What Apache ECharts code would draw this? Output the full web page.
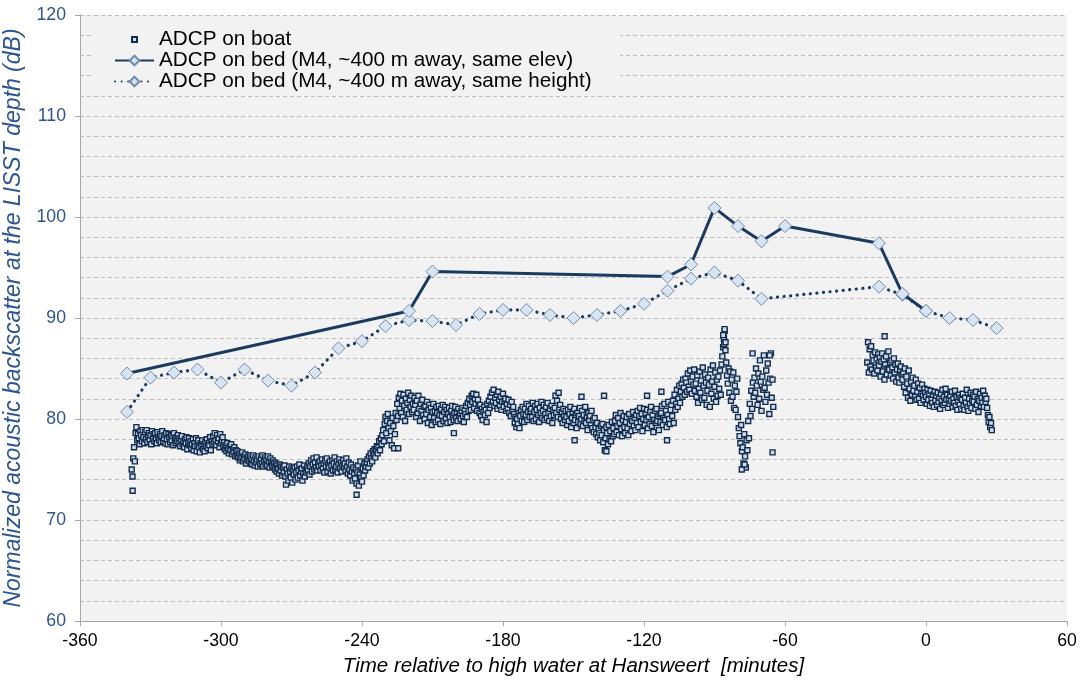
<!DOCTYPE html>
<html><head><meta charset="utf-8">
<script src="https://cdn.jsdelivr.net/npm/echarts@6/dist/echarts.min.js"></script>
<style>html,body{margin:0;padding:0;background:#fff}#c{width:1085px;height:684px}</style>
</head><body><div id="c"></div>
<script>
const seriesNames = ['ADCP on boat', 'ADCP on bed (M4, ~400 m away, same elev)', 'ADCP on bed (M4, ~400 m away, same height)'];
const xTicks = [-360, -300, -240, -180, -120, -60, 0, 60];
const yTicks = [60, 70, 80, 90, 100, 110, 120];

// ADCP on bed, same elevation
const elevTimes = [-340, -220, -210, -110, -100, -90, -80, -70, -60, -20, -10, 0];
const elevValues = [84.5, 90.7, 94.6, 94.1, 95.3, 100.9, 99.1, 97.6, 99.1, 97.4, 92.4, 90.7];

// ADCP on bed, same height
const heightTimes = [-340, -330, -320, -310, -300, -290, -280, -270, -260, -250, -240, -230, -220, -210, -200, -190, -180, -170, -160, -150, -140, -130, -120, -110, -100, -90, -80, -70, -20, -10, 0, 10, 20, 30];
const heightValues = [80.7, 84.1, 84.6, 84.9, 83.6, 84.9, 83.8, 83.3, 84.6, 87.0, 87.7, 89.2, 89.8, 89.7, 89.3, 90.4, 90.8, 90.8, 90.3, 90.0, 90.3, 90.7, 91.4, 92.7, 93.9, 94.5, 93.7, 91.9, 93.1, 92.3, 90.7, 90.0, 89.8, 89.0];

// ADCP on boat: samples every 20 s (1/3 min)
const boatStep = 1 / 3;
const boatStart1 = -338;
const boatValues1 = [
75.0,74.3,76.1,77.2,75.8,78.6,79.2,77.9,78.5,78.1,77.5,78.8,78.4,77.8,78.9,
78.2,77.6,78.7,78.0,78.9,77.7,78.3,78.6,77.9,78.4,77.5,78.8,78.1,78.5,77.8,
78.6,78.0,77.6,78.7,78.2,77.9,78.5,77.7,78.3,78.8,77.8,78.1,78.4,77.6,78.6,
78.0,77.5,78.5,78.2,77.7,78.4,77.9,78.3,77.4,78.6,78.0,77.6,78.2,77.8,78.4,
77.6,78.1,77.3,77.9,78.3,77.5,77.8,77.2,78.0,77.6,78.2,77.0,77.7,78.1,77.4,
77.8,77.1,77.5,78.0,76.9,77.6,77.3,78.1,76.8,77.4,77.9,77.2,76.7,77.6,77.3,
77.9,77.0,77.5,76.8,77.7,77.3,78.0,77.1,77.6,77.4,78.2,76.9,77.8,77.5,78.3,
77.7,78.6,77.9,77.4,78.4,77.8,78.1,77.2,78.5,77.6,77.9,78.2,77.3,77.7,77.0,
77.4,76.8,77.6,77.1,76.6,77.3,76.9,77.5,76.5,77.0,76.7,77.2,76.3,76.9,76.4,
76.8,76.2,76.6,75.9,76.5,76.1,76.7,75.8,76.3,76.0,76.5,75.6,76.2,75.9,76.4,
75.8,76.3,75.6,76.1,75.5,76.4,75.9,75.4,76.2,75.7,76.0,75.3,76.3,75.8,75.5,
76.1,75.6,76.4,75.3,75.9,76.2,75.5,76.0,75.4,76.3,75.8,75.2,76.1,75.7,75.4,
75.9,75.3,75.7,75.0,75.6,74.8,75.4,75.1,74.6,75.5,74.9,75.3,74.4,75.2,74.7,
75.4,74.3,73.5,75.0,74.6,73.9,75.3,74.8,74.2,75.1,73.7,74.9,74.5,75.2,74.0,
74.7,75.3,74.2,74.9,75.5,74.4,74.8,75.1,73.9,74.6,75.4,74.3,75.0,74.7,75.2,
74.9,75.6,74.5,75.3,75.9,74.8,75.5,76.1,75.0,75.7,75.2,76.2,74.9,75.6,75.3,
75.8,74.9,75.4,76.0,75.1,75.6,74.7,75.9,75.3,76.1,74.8,75.5,75.2,75.8,74.6,
75.4,75.9,74.9,75.6,76.2,75.0,75.3,75.8,74.7,75.5,76.0,75.1,75.7,74.8,75.4,
75.9,75.2,75.6,74.9,76.1,75.3,74.6,75.7,75.0,74.4,75.5,74.8,73.9,75.2,74.6,
74.1,75.0,73.6,74.7,75.4,73.4,74.5,75.8,74.2,73.8,75.1,74.4,75.6,74.9,75.3,
75.7,76.0,75.2,76.3,75.6,76.6,76.1,75.8,76.8,76.4,77.0,76.2,76.9,77.3,76.6,
77.2,77.8,76.9,78.1,77.5,78.4,78.9,77.8,79.5,80.2,78.6,79.8,80.5,79.1,77.9,
79.6,78.8,77.4,80.1,79.3,77.1,78.5,80.6,79.9,81.5,80.3,82.1,81.0,82.5,80.6,
81.8,80.2,82.4,81.3,79.8,82.0,80.9,81.6,82.6,80.5,81.9,81.2,82.3,80.7,81.5,
80.9,82.1,81.4,80.2,81.8,80.6,82.3,81.0,79.8,81.5,80.8,81.9,80.4,81.2,80.0,
81.3,80.5,81.7,79.6,80.9,81.4,80.2,81.1,79.4,80.7,81.5,80.1,80.8,79.7,81.2,
80.6,79.9,81.3,80.4,79.5,81.0,80.3,81.4,79.8,80.7,81.2,80.0,80.9,79.6,80.5,
81.1,80.2,79.7,80.8,81.3,80.4,79.9,80.6,81.2,80.1,80.7,79.8,81.0,80.3,80.6,
80.0,80.8,81.1,80.3,79.7,80.9,80.5,81.3,80.2,81.6,80.8,82.0,81.4,80.9,82.3,
81.7,82.5,81.1,82.0,81.5,82.4,80.8,81.9,81.3,80.6,81.4,80.3,81.0,79.9,80.7,
81.2,80.4,80.9,79.7,81.5,80.6,81.8,81.1,82.2,81.4,82.6,81.7,82.9,81.3,82.1,
81.6,82.4,81.0,82.7,81.9,81.3,82.2,80.9,81.7,82.5,81.2,81.8,82.0,80.8,81.5,
81.0,81.9,80.6,81.4,80.3,81.7,80.9,81.2,80.5,79.6,80.2,79.2,80.0,79.5,80.6,
79.1,80.3,80.9,79.8,81.2,80.5,79.7,81.0,80.4,81.5,79.9,80.7,81.3,80.2,80.8,
81.0,80.2,81.6,79.8,80.7,81.3,80.0,80.9,81.5,80.4,79.7,81.1,80.6,81.7,80.1,
80.8,81.4,79.9,80.5,81.2,80.1,81.6,80.6,79.8,81.0,80.3,81.3,79.6,80.9,80.4,
81.1,82.3,80.6,81.8,80.2,82.6,80.9,81.4,80.0,80.7,79.6,81.0,80.3,79.9,80.8,
80.2,79.4,80.9,79.8,80.5,81.2,79.2,80.1,80.7,79.6,81.0,79.9,80.4,79.1,80.6,
79.7,80.3,81.1,79.5,80.0,80.8,79.3,80.4,79.8,81.2,79.6,80.2,78.9,80.6,79.9,
80.3,79.4,80.8,79.1,79.9,78.7,80.1,79.2,78.5,79.6,78.2,79.0,78.6,77.9,79.3,
78.4,79.5,77.7,78.9,76.9,78.1,79.2,78.6,77.5,79.4,78.0,78.8,77.8,79.7,78.3,
79.1,78.5,79.8,80.4,78.7,79.3,80.1,78.4,79.6,80.6,79.0,78.3,79.9,80.3,79.2,
78.6,79.7,80.2,79.1,78.4,80.5,79.5,80.0,78.8,79.8,80.7,79.3,80.1,78.9,80.4,
79.6,80.8,79.2,80.3,81.1,79.7,80.5,78.8,80.0,81.0,79.4,80.6,79.9,80.9,79.1,
80.2,79.5,80.7,81.2,79.3,80.4,78.7,79.9,80.8,79.6,81.0,79.8,80.3,78.9,80.5,
79.7,80.6,81.3,79.4,80.1,81.5,79.9,80.8,79.2,80.4,81.7,80.0,79.5,80.9,81.4,
80.3,81.8,79.6,82.4,80.9,81.5,82.9,81.2,82.0,83.3,81.6,82.7,83.5,82.2,83.9,
83.1,82.4,84.0,83.6,82.7,84.5,83.2,82.9,84.8,83.7,82.5,84.2,83.4,84.9,82.8,
83.5,82.2,84.3,81.6,83.0,84.7,82.6,83.8,81.9,85.1,83.3,82.1,84.4,83.6,81.4,
82.8,84.1,83.4,81.2,84.9,82.5,83.7,85.3,82.0,83.2,84.6,81.7,83.9,82.3,84.2,
83.0,84.8,82.4,85.4,86.2,87.1,88.0,88.7,86.8,85.6,84.3,83.5,85.0,82.6,84.7,
81.8,83.9,82.2,84.6,81.1,83.3,80.9,82.7,84.0,80.2,79.1,78.3,77.6,79.4,76.8,
77.2,75.6,78.5,76.3,75.2,77.9,76.9,79.8,78.1,81.5,80.3,82.8,81.0,83.6,82.2,
84.1,82.6,85.0,83.3,81.4,84.5,82.0,85.8,83.7,80.8,84.2,82.9,86.3,83.1,81.7,
84.8,82.4,85.5,83.6,80.5,84.0,86.5,82.1,83.9,81.2
];
const boatStart2 = -25;
const boatValues2 = [
85.6,87.6,84.6,86.9,85.2,87.2,84.9,86.3,85.8,84.5,86.6,85.1,86.0,84.8,86.4,
85.3,86.1,84.2,85.7,86.5,84.7,85.9,83.9,85.4,86.2,84.4,85.0,86.7,84.9,85.6,
84.3,85.8,85.1,84.0,86.0,84.6,85.4,83.7,84.9,85.5,84.1,83.6,84.8,85.2,84.4,
83.9,84.6,83.2,85.0,82.6,84.2,83.5,82.1,84.8,83.0,81.8,83.7,82.4,84.1,82.8,
83.3,82.2,83.9,81.9,82.7,83.5,82.0,83.1,81.6,82.5,83.4,82.3,81.9,83.0,82.6,
82.2,81.5,82.9,81.9,82.5,81.3,82.8,82.0,81.6,82.4,81.2,82.7,81.8,82.3,81.4,
82.6,81.7,82.1,81.0,82.5,81.8,82.9,81.4,82.2,81.6,83.0,81.9,82.4,81.1,82.0,
81.5,82.3,81.8,82.7,81.2,82.0,81.6,82.8,81.3,82.2,80.9,81.7,82.4,81.4,82.1,
81.0,81.9,82.5,81.3,80.9,82.1,81.6,82.9,81.2,80.8,82.0,81.5,82.6,81.1,81.8,
82.4,81.7,82.2,81.0,82.7,81.4,82.0,80.7,81.8,82.5,81.3,82.1,81.6,82.8,81.2,
82.3,81.7,82.0,81.1,80.4,79.7,80.2,79.2,79.6,78.9
];
// isolated boat samples (time, value)
const boatOutlierTimes = [-337.6, -242.3, -224.6, -200.9, -149.5, -146.6, -137.0, -136.0, -118.7, -112.6, -110.2, -86.3, -85.9, -85.7, -85.3, -78.4, -77.2, -73.8, -66.5, -65.3, -17.6];
const boatOutlierValues = [72.9, 72.5, 77.1, 78.6, 77.9, 82.2, 82.3, 76.8, 82.3, 82.7, 77.9, 88.3, 87.4, 88.9, 87.6, 75.0, 75.5, 86.5, 86.3, 76.7, 88.2];

const boatData = [];
boatValues1.forEach((v, i) => boatData.push([boatStart1 + i * boatStep, v]));
boatValues2.forEach((v, i) => boatData.push([boatStart2 + i * boatStep, v]));
boatOutlierTimes.forEach((t, i) => boatData.push([t, boatOutlierValues[i]]));
const elevData = elevTimes.map((t, i) => [t, elevValues[i]]);
const heightData = heightTimes.map((t, i) => [t, heightValues[i]]);

const FONT = '"Liberation Sans", Arial, sans-serif';
const NAVY = '#1b3a5f';
const AXISBLUE = '#2c5594';
const grid = {left: 80, right: 18, top: 15, bottom: 63};
const chart = echarts.init(document.getElementById('c'), null, {renderer: 'canvas'});
const diamondStyle = {color: '#d9e4f1', borderColor: '#6f8cb3', borderWidth: 1};
chart.setOption({
  animation: false,
  backgroundColor: '#ffffff',
  textStyle: {fontFamily: FONT},
  grid: Object.assign({show: true, backgroundColor: '#f2f2f2', borderWidth: 0, containLabel: false, outerBoundsMode: 'none'}, grid),
  graphic: [{
    type: 'rect', z: 1, silent: true,
    shape: {x: 93, y: 19, width: 527, height: 72},
    style: {fill: '#f2f2f2'}
  }],
  legend: {
    orient: 'vertical', left: 109, top: 24, itemWidth: 39, itemHeight: 12, itemGap: 0,
    textStyle: {fontSize: 20.7, color: '#000', fontFamily: FONT, lineHeight: 20.5},
    data: [
      {name: seriesNames[0], icon: 'path://M0,0M39,12M17,3.5h5v5h-5z'},
      {name: seriesNames[1]},
      {name: seriesNames[2]}
    ]
  },
  xAxis: {
    type: 'value', min: xTicks[0], max: xTicks[xTicks.length - 1], interval: 60,
    name: 'Time relative to high water at Hansweert  [minutes]',
    nameLocation: 'middle', nameGap: 35,
    nameTextStyle: {fontSize: 20.5, fontStyle: 'italic', color: '#000', fontFamily: FONT},
    axisLine: {show: true, onZero: false, lineStyle: {color: '#a6a6a6', width: 1}},
    axisTick: {show: true, length: 5, lineStyle: {color: '#a6a6a6'}},
    axisLabel: {fontSize: 17.7, color: '#000', margin: 11, fontFamily: FONT},
    splitLine: {show: false}
  },
  yAxis: {
    type: 'value', min: yTicks[0], max: yTicks[yTicks.length - 1], interval: 10,
    name: 'Normalized acoustic backscatter at the LISST depth (dB)',
    nameLocation: 'middle', nameGap: 48,
    nameTextStyle: {fontSize: 23, fontStyle: 'italic', color: AXISBLUE, fontFamily: FONT},
    axisLine: {show: true, onZero: false, lineStyle: {color: '#a6a6a6', width: 1}},
    axisTick: {show: true, length: 5, lineStyle: {color: '#a6a6a6'}},
    axisLabel: {fontSize: 17.7, color: AXISBLUE, margin: 14, fontFamily: FONT},
    splitLine: {show: true, lineStyle: {color: '#bdbdbd', type: [4, 3], width: 1}},
    minorTick: {show: false, splitNumber: 5},
    minorSplitLine: {show: true, lineStyle: {color: '#bdbdbd', type: [4, 3], width: 1}}
  },
  series: [
    {
      name: seriesNames[0], type: 'scatter', data: boatData, z: 2,
      symbol: 'rect', symbolSize: 5,
      itemStyle: {color: '#cfdbea', borderColor: '#112c4e', borderWidth: 1.4, opacity: 1}
    },
    {
      name: seriesNames[1], type: 'line', data: elevData, z: 4,
      symbol: 'diamond', symbolSize: 13, showSymbol: true,
      lineStyle: {color: NAVY, width: 3},
      itemStyle: diamondStyle
    },
    {
      name: seriesNames[2], type: 'line', data: heightData, z: 3,
      symbol: 'diamond', symbolSize: 13, showSymbol: true,
      lineStyle: {color: NAVY, width: 3.2, type: [0.1, 6.5], cap: 'round'},
      itemStyle: diamondStyle
    }
  ]
});
</script></body></html>
